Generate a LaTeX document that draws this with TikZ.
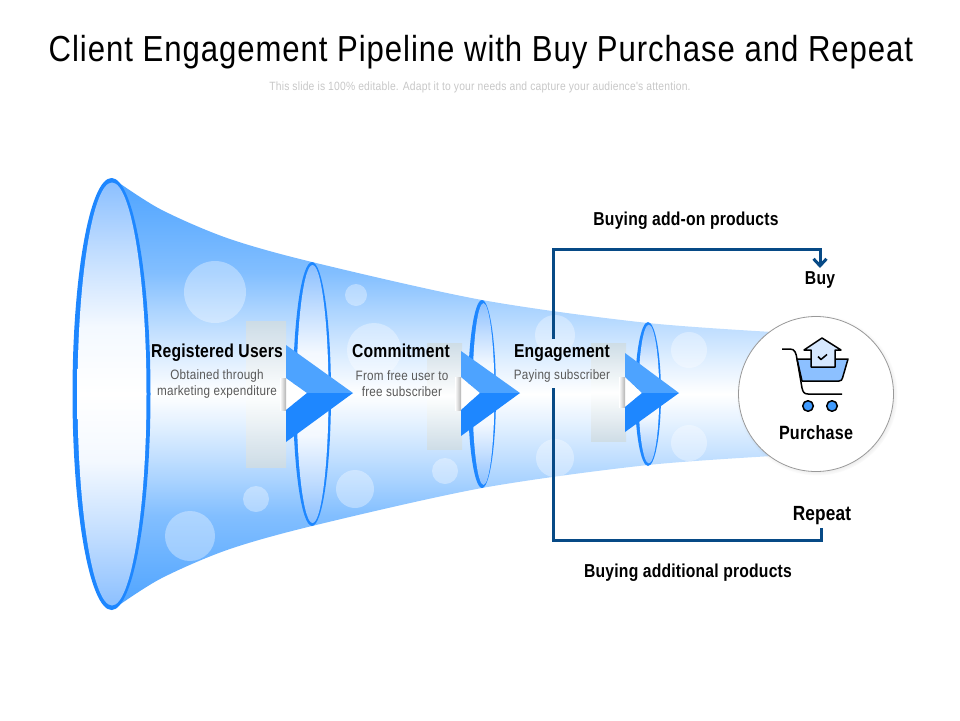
\documentclass[tikz,border=0pt]{standalone}
\usepackage{fontspec}
\setmainfont[FakeStretch=.86]{Liberation Sans}
\newfontfamily\titlefont[FakeStretch=.86,LetterSpace=2.6]{Liberation Sans}
\newfontfamily\subfont[FakeStretch=.86,LetterSpace=1.6]{Liberation Sans}
\newfontfamily\headfont[FakeStretch=.84,LetterSpace=1]{Liberation Sans Bold}
\usetikzlibrary{arrows.meta,shadows}
\definecolor{funnelblue}{HTML}{4DA3FF}
\definecolor{ringblue}{HTML}{1E87FF}
\definecolor{pipenavy}{HTML}{074A86}
\definecolor{cartblue}{HTML}{8CC0FF}
\definecolor{wheelblue}{HTML}{3F9BFF}
\definecolor{houseblue}{HTML}{D6E8FF}
\definecolor{stagegrey}{HTML}{CFDDE4}
\pgfdeclareverticalshading{funnelshade}{100bp}{
  color(0bp)=(funnelblue);
  color(25bp)=(funnelblue);
  color(36bp)=(funnelblue!70!white);
  color(40bp)=(funnelblue!48!white);
  color(46bp)=(funnelblue!18!white);
  color(50bp)=(white);
  color(54bp)=(funnelblue!18!white);
  color(60bp)=(funnelblue!48!white);
  color(64bp)=(funnelblue!70!white);
  color(75bp)=(funnelblue);
  color(100bp)=(funnelblue)}
\pgfdeclareverticalshading{ringshade}{100bp}{
  color(0bp)=(cartblue);
  color(25bp)=(cartblue);
  color(33bp)=(cartblue!55!white);
  color(42bp)=(cartblue!10!white);
  color(50bp)=(white);
  color(58bp)=(cartblue!10!white);
  color(67bp)=(cartblue!55!white);
  color(75bp)=(cartblue);
  color(100bp)=(cartblue)}
\tikzset{
  headtext/.style={font=\fontsize{18.7}{20}\headfont, inner sep=1pt, text height=14pt, text depth=4pt},
  subtext/.style={font=\fontsize{13.6}{16}\subfont, text=black!65, align=center, inner sep=1pt},
  pipeline/.style={draw=pipenavy, line width=3pt},
  carticon/.style={draw=black, line width=1.5pt, line join=round}
}
\newcommand\funnelring[5]{
  \fill [ringblue] (#1, 394) ellipse (#2 and #3) ;
  \shade [shading=ringshade]
     (#1 + #4 * .5 - #5 * .5, 394) ellipse (#2 - #4 * .5 - #5 * .5 and #3 - #4 * .5 - #5 * .5) ;
}
\newcommand\funnelbubble[3]{
  \fill [white, opacity=.35] (#1, #2) circle (#3) ;
}
\newcommand\stagebox[4]{
  \shade [top color=stagegrey, bottom color=stagegrey, middle color=white, opacity=.9] (#1, #3) rectangle (#2, #4) ;
}
\newcommand\stagearrow[7]{
  \fill [white] (#1, #5) -- (#7, 393) -- (#1, #6) -- cycle ;
  \shade [left color=white, right color=black!30] (#1 - 6, #5) rectangle (#1, #6) ;
  \fill [funnelblue] (#1, #3) -- (#2, 393) -- (#7, 393) -- (#1, #5) -- cycle ;
  \fill [ringblue] (#1, #4) -- (#2, 393) -- (#7, 393) -- (#1, #6) -- cycle ;
}
\begin{document}
\begin{tikzpicture}[x=1pt, y=-1pt]
    \useasboundingbox (0, 0) rectangle (960, 720) ;
    \shade [shading=funnelshade]
       plot [smooth] coordinates {(112,178) (160,209) (227,238) (312,262) (482,300) (648,323) (790,333)}
       -- plot [smooth] coordinates {(790,455) (648,465) (482,488) (312,526) (227,550) (160,579) (112,610)}
       -- cycle ;
    \funnelbubble{215}{292}{31}
    \funnelbubble{356}{295}{11}
    \funnelbubble{374}{350}{27}
    \funnelbubble{256}{499}{13}
    \funnelbubble{190}{536}{25}
    \funnelbubble{355}{489}{19}
    \funnelbubble{445}{471}{13}
    \funnelbubble{555}{335}{20}
    \funnelbubble{555}{458}{19}
    \funnelbubble{689}{350}{18}
    \funnelbubble{689}{443}{18}
    \funnelring{111.5}{39}{216}{5}{4}
    \funnelring{312}{19}{132}{3.5}{2.5}
    \funnelring{482}{14}{94}{4.5}{1.6}
    \funnelring{648}{13}{72}{3.5}{1.8}
    \stagebox{246}{286}{321}{467}
    \stagebox{427}{462}{343}{449}
    \stagebox{591}{626}{343}{441}
    \stagearrow{286}{353}{345}{442}{378}{410}{307}
    \stagearrow{461}{520}{351}{436}{377}{410}{480}
    \stagearrow{625}{679}{353}{432}{377}{407}{642}
    \node (title) at (481, 52.5) [font=\fontsize{36.2}{40}\titlefont, inner sep=0pt] {Client Engagement Pipeline with Buy Purchase and Repeat} ;
    \node (subtitle) at (480, 87) [font=\fontsize{12}{14}\subfont, text=black!22, inner sep=0pt] {This slide is 100\% editable. Adapt it to your needs and capture your audience's attention.} ;
    \node (registered) at (217, 352) [headtext] {Registered Users} ;
    \node (commitment) at (401, 352) [headtext] {Commitment} ;
    \node (engagement) at (562, 352) [headtext] {Engagement} ;
    \node (obtained) at (217, 383.5) [subtext] {Obtained through\\marketing expenditure} ;
    \node (fromfree) at (402, 383.5) [subtext] {From free user to\\free subscriber} ;
    \node (paying) at (562, 375.5) [subtext] {Paying subscriber} ;
    \node (purchasecircle) at (816, 394) [circle, minimum size=155pt, draw=black!40, line width=.8pt, fill=white, inner sep=0pt,
       circular drop shadow={shadow xshift=1pt, shadow yshift=-1pt, shadow scale=1.04, opacity=.35}] {} ;
    \fill [cartblue, carticon] (797, 359) -- (848, 359) -- (842.5, 378) .. controls (842, 380) and (841, 381) .. (839, 381) -- (802, 381) -- cycle ;
    \draw [carticon] (782, 349) -- (790, 349) .. controls (795, 349) and (796, 353) .. (797, 359)
       -- (802, 388) .. controls (803, 392) and (804, 394) .. (808, 394) -- (842, 394) ;
    \fill [houseblue, carticon] (822, 338) -- (841, 350) -- (835, 350) -- (835, 367) -- (811, 367) -- (811, 350) -- (804, 350) -- cycle ;
    \draw [carticon] (818, 356.5) -- (821, 359.5) -- (827, 354.5) ;
    \fill [wheelblue, carticon] (808, 406) circle (5.3) ;
    \fill [wheelblue, carticon] (832, 406) circle (5.3) ;
    \node (purchase) at (816, 434) [headtext, font=\fontsize{19.2}{21}\headfont] {Purchase} ;
    \node (buy) at (820, 279) [headtext] {Buy} ;
    \node (repeatlabel) at (822, 515) [headtext, font=\fontsize{20.5}{21}\headfont] {Repeat} ;
    \node (addon) at (686, 220) [headtext] {Buying add-on products} ;
    \node (additional) at (688, 572) [headtext] {Buying additional products} ;
    \coordinate (pipetop) at (553.5, 339) ;
    \coordinate (pipebottom) at (553.5, 388) ;
    \coordinate (pipecorner) at (553.5, 540) ;
    \coordinate (buyend) at (820, 268) ;
    \coordinate (repeatend) at (821, 528) ;
    \draw [pipeline, -{Straight Barb[length=7pt, width=13pt]}] (pipetop) |- ++ (266.5, -90) -- (buyend) ;
    \draw [pipeline] (pipebottom) -- (pipecorner) -| (repeatend) ;
  \end{tikzpicture}
\end{document}
